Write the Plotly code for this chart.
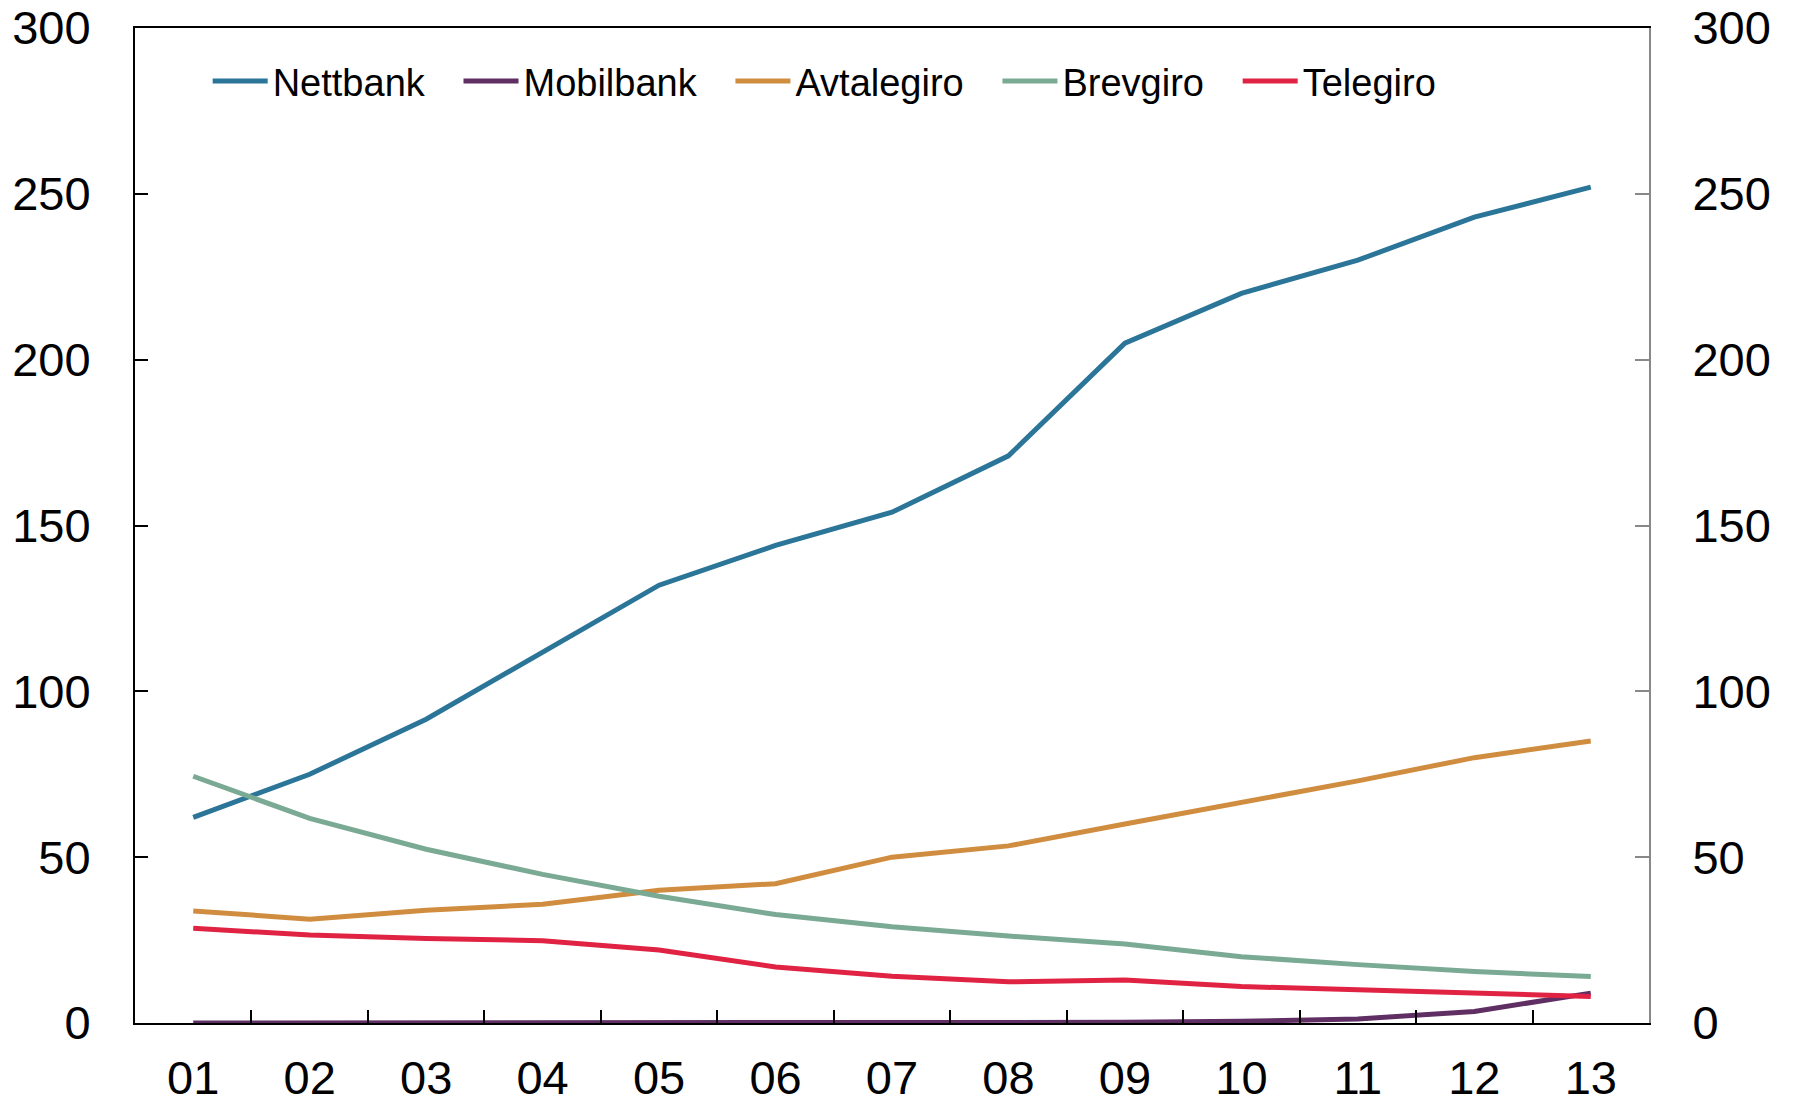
import plotly.graph_objects as go

years = ['01', '02', '03', '04', '05', '06', '07', '08', '09', '10', '11', '12', '13']
nettbank = [62, 75, 91.6, 112, 132, 144, 154, 171, 205, 220, 230, 243, 252]
mobilbank = [0, 0, 0, 0, 0, 0, 0, 0, 0.2, 0.5, 1.2, 3.5, 9]
avtalegiro = [33.8, 31.3, 34, 35.8, 40, 42, 50, 53.4, 60, 66.5, 73, 80, 85]
brevgiro = [74.4, 61.7, 52.4, 44.8, 38.2, 32.7, 29, 26.2, 23.8, 20, 17.6, 15.5, 14]
telegiro = [28.6, 26.5, 25.5, 24.8, 22, 16.9, 14.1, 12.4, 13, 11, 10, 9, 8]

series = [
    ('Nettbank', nettbank, '#2b7599'),
    ('Mobilbank', mobilbank, '#5f2e63'),
    ('Avtalegiro', avtalegiro, '#d08d40'),
    ('Brevgiro', brevgiro, '#7aa994'),
    ('Telegiro', telegiro, '#e02342'),
]

pad = '\u00a0\u00a0\u2009'

fig = go.Figure()
for name, vals, col in series:
    fig.add_trace(go.Scatter(x=years, y=vals, name=name + pad, mode='lines',
                             line=dict(color=col, width=5)))

# invisible copy so the right axis is drawn
fig.add_trace(go.Scatter(x=years, y=nettbank, yaxis='y2', mode='lines',
                         line=dict(color='rgba(0,0,0,0)'), showlegend=False,
                         hoverinfo='skip'))

font = dict(family='Liberation Sans, Arial', size=47, color='black')

fig.update_layout(
    width=1785, height=1093,
    margin=dict(l=127, r=144, t=20, b=78, autoexpand=False),
    plot_bgcolor='white', paper_bgcolor='white',
    font=font,
    showlegend=True,
    legend=dict(orientation='h', x=0.048, y=0.978, xanchor='left', yanchor='top',
                font=dict(family='Liberation Sans, Arial', size=38, color='black'),
                bgcolor='rgba(0,0,0,0)', itemwidth=55, tracegroupgap=0),
    xaxis=dict(type='category', range=[-0.5, 12.5], tickson='boundaries',
               ticks='inside', ticklen=13, tickwidth=1.5, tickcolor='black',
               showline=True, linecolor='black', linewidth=2, mirror=True,
               showgrid=False, zeroline=False, ticklabelstandoff=13,
               automargin=False, ticklabeloverflow='allow', tickfont=font),
    yaxis=dict(range=[0, 300], dtick=50, ticks='inside', ticklen=13,
               tickwidth=1.5, tickcolor='black', showline=True,
               linecolor='black', linewidth=2, showgrid=False,
               zeroline=False, ticklabelstandoff=33, automargin=False,
               ticklabeloverflow='allow', tickfont=font),
    yaxis2=dict(range=[0, 300], dtick=50, overlaying='y', side='right',
                ticks='inside', ticklen=14, tickwidth=1.5, tickcolor='#888888',
                showline=True, linecolor='#888888', linewidth=2,
                showgrid=False, zeroline=False, ticklabelstandoff=32,
                automargin=False, ticklabeloverflow='allow', tickfont=font),
)

fig.write_html("out.html")
